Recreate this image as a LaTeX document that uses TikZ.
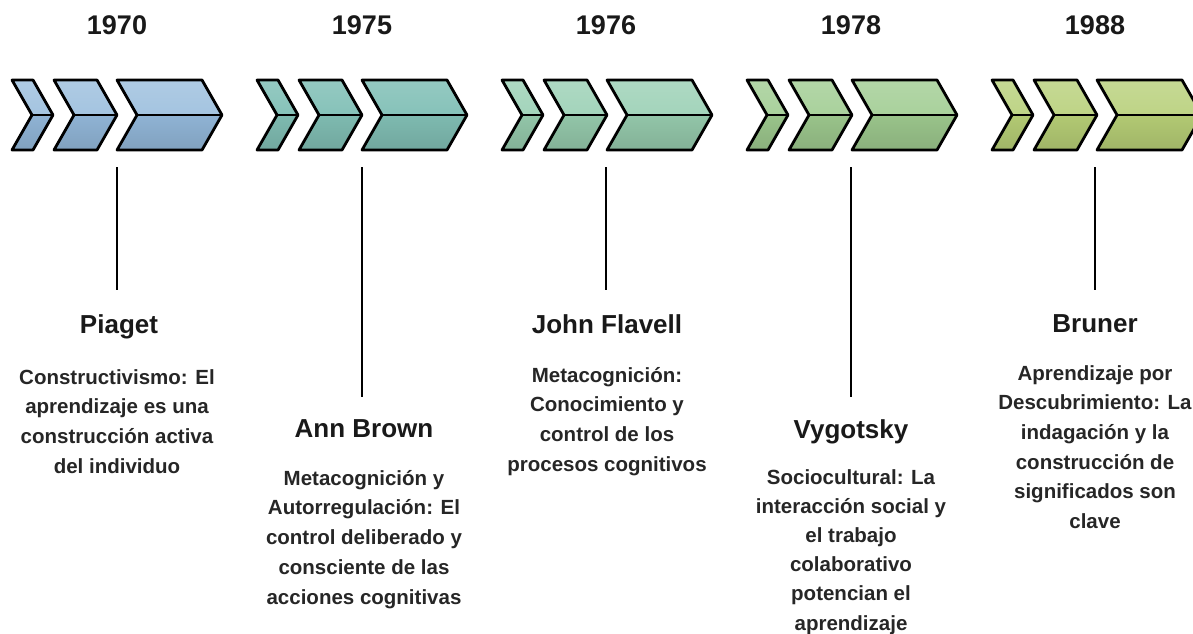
\documentclass[tikz,border=0pt]{standalone}
\usepackage{fontspec}
\setmainfont{Liberation Sans}
\begin{document}
\begin{tikzpicture}[x=1pt,y=-1pt,
  chev/.style={draw=black,line width=2.8pt,line join=round},
  year/.style={font={\bfseries\fontsize{27}{30}\selectfont},anchor=north,inner sep=0pt,text=black!90},
  who/.style={font={\bfseries\fontsize{26}{30}\selectfont},anchor=north,inner sep=0pt,text=black!90},
  desc/.style={font={\bfseries\fontsize{20.5}{29.7}\selectfont},anchor=north,inner sep=0pt,align=center,text=black!85},
  stem/.style={draw=black,line width=2.8pt}]
\useasboundingbox (0,0) rectangle (1193,633);
\fill[white] (0,0) rectangle (1193,633);
% chevron groups
\newcommand{\chevgroup}[3]{%
  \foreach \a/\b/\c in {0/21/41, 42/85/105, 105/190/210}{%
    \fill[top color=#2!88!white,bottom color=#2] ({#1+\a},80) -- ({#1+\b},80) -- ({#1+\c},115) -- ({#1+\a+20},115) -- cycle;
    \fill[top color=#3,bottom color=#3!90!black] ({#1+\a+20},115) -- ({#1+\c},115) -- ({#1+\b},150) -- ({#1+\a},150) -- cycle;
    \draw[chev] ({#1+\a},80) -- ({#1+\b},80) -- ({#1+\c},115) -- ({#1+\b},150) -- ({#1+\a},150) -- ({#1+\a+20},115) -- cycle;
    \draw[chev] ({#1+\a+20},115) -- ({#1+\c},115);
  }}
\definecolor{ct1}{HTML}{A4C4E0}\definecolor{cb1}{HTML}{8FB3D4}
\definecolor{ct2}{HTML}{86C2B9}\definecolor{cb2}{HTML}{7EBAB0}
\definecolor{ct3}{HTML}{A3D4BB}\definecolor{cb3}{HTML}{92C5A8}
\definecolor{ct4}{HTML}{A9D19C}\definecolor{cb4}{HTML}{99C38A}
\definecolor{ct5}{HTML}{BED486}\definecolor{cb5}{HTML}{B2C973}
\chevgroup{12}{ct1}{cb1}
\chevgroup{257}{ct2}{cb2}
\chevgroup{502}{ct3}{cb3}
\chevgroup{747}{ct4}{cb4}
\chevgroup{992}{ct5}{cb5}
% years
\node[year] (y1) at (117,15) {1970};
\node[year] (y2) at (362,15) {1975};
\node[year] (y3) at (606,15) {1976};
\node[year] (y4) at (851,15) {1978};
\node[year] (y5) at (1095,15) {1988};
% stems
\coordinate (s1a) at (117,167); \coordinate (s1b) at (117,290);
\coordinate (s2a) at (362,167); \coordinate (s2b) at (362,397);
\coordinate (s3a) at (606,167); \coordinate (s3b) at (606,290);
\coordinate (s4a) at (851,167); \coordinate (s4b) at (851,397);
\coordinate (s5a) at (1095,167); \coordinate (s5b) at (1095,290);
\draw[stem] (s1a) -- (s1b);
\draw[stem] (s2a) -- (s2b);
\draw[stem] (s3a) -- (s3b);
\draw[stem] (s4a) -- (s4b);
\draw[stem] (s5a) -- (s5b);
% titles
\node[who] (t1) at (119,314) {Piaget};
\node[who] (t2) at (364,419) {Ann Brown};
\node[who] (t3) at (607,314) {John Flavell};
\node[who] (t4) at (851,419) {Vygotsky};
\node[who] (t5) at (1095,314) {Bruner};
% descriptions
\node[desc] (d1) at (117,369) {Constructivismo: El\\aprendizaje es una\\construcción activa\\del individuo};
\node[desc] (d2) at (364,470) {Metacognición y\\Autorregulación: El\\control deliberado y\\consciente de las\\acciones cognitivas};
\node[desc] (d3) at (607,367) {Metacognición:\\Conocimiento y\\control de los\\procesos cognitivos};
\node[desc,font={\bfseries\fontsize{20.5}{29.2}\selectfont}] (d4) at (851,469) {Sociocultural: La\\interacción social y\\el trabajo\\colaborativo\\potencian el\\aprendizaje};
\node[desc] (d5) at (1095,365) {Aprendizaje por\\Descubrimiento: La\\indagación y la\\construcción de\\significados son\\clave};
\end{tikzpicture}
\end{document}
